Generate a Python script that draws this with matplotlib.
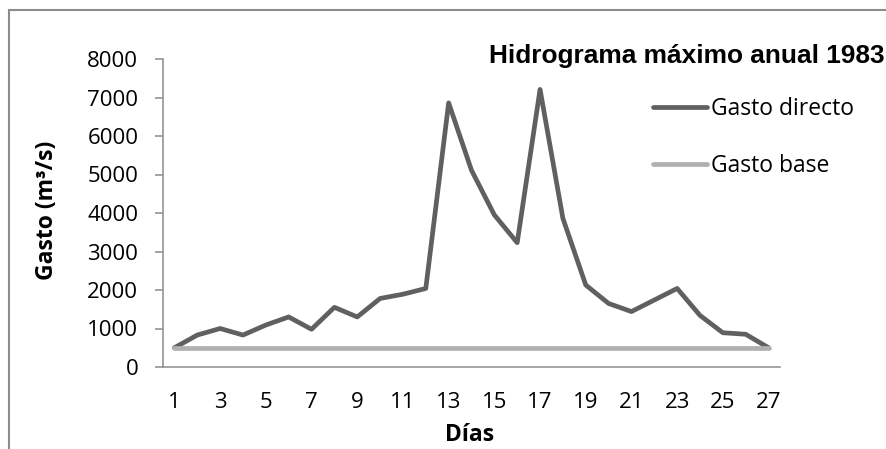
import matplotlib
matplotlib.use('Agg')
from matplotlib import pyplot as plt
from matplotlib.patches import Rectangle

# datos del hidrograma
dias = list(range(1, 28))
gasto_directo = [500, 830, 1000, 830, 1090, 1300, 980, 1550, 1300, 1780,
                 1890, 2040, 6860, 5110, 3950, 3230, 7210, 3860, 2130, 1650,
                 1440, 1740, 2040, 1340, 890, 850, 500]
gasto_base = [500, 500, 500, 500, 500, 500, 500, 500, 500, 500,
              500, 500, 500, 500, 500, 500, 500, 500, 500, 500,
              500, 500, 500, 500, 500, 500, 500]
xticks = [1, 3, 5, 7, 9, 11, 13, 15, 17, 19, 21, 23, 25, 27]
yticks = [0, 1000, 2000, 3000, 4000, 5000, 6000, 7000, 8000]

W, H = 886, 449
plt.rcParams['font.family'] = ['Open Sans', 'DejaVu Sans']

fig = plt.figure(figsize=(W / 100, H / 100), dpi=100)
ax = fig.add_axes([163 / W, 1 - 367 / H, (780 - 163) / W, (367 - 59) / H])

# borde del area del grafico (cortado a la derecha y abajo)
fig.patches.append(Rectangle((9 / W, -0.1), 1.2, 1 - 10 / H + 0.1,
                             transform=fig.transFigure, fill=False,
                             edgecolor='#8c8c8c', linewidth=1.5))

ax.plot(dias, gasto_directo, color='#606060', linewidth=3.4,
        solid_capstyle='round', solid_joinstyle='round', label='Gasto directo')
ax.plot(dias, gasto_base, color='#b0b0b0', linewidth=3.4,
        solid_capstyle='round', label='Gasto base')

ax.set_xlim(0.5, 27.5)
ax.set_ylim(0, 8000)
ax.set_xticks(xticks)
ax.set_yticks(yticks)
ax.tick_params(axis='x', length=0, pad=18, labelsize=16)
ax.tick_params(axis='y', length=5.8, width=1.1, color='#8c8c8c', pad=12, labelsize=16)

for s in ['top', 'right']:
    ax.spines[s].set_visible(False)
for s in ['left', 'bottom']:
    ax.spines[s].set_color('#8c8c8c')
    ax.spines[s].set_linewidth(1.1)

fig.text(47 / W, 1 - 210 / H, 'Gasto (m³/s)', rotation=90, ha='center', va='center',
         fontsize=16.5, fontweight='bold')
fig.text(470 / W, 1 - 435 / H, 'Días', ha='center', va='center',
         fontsize=16.5, fontweight='bold')
fig.text(489 / W, 1 - 63 / H, 'Hidrograma máximo anual 1983', ha='left', va='baseline',
         fontsize=18.9, fontweight='bold', family='Liberation Sans')

ax.legend(loc='upper left', bbox_to_anchor=(653 / W, 1 - 97 / H),
          bbox_transform=fig.transFigure, frameon=False, fontsize=16.5,
          borderpad=0, borderaxespad=0, handlelength=2.35, handletextpad=0.2,
          labelspacing=1.45)

fig.savefig('out.png', dpi=100)
